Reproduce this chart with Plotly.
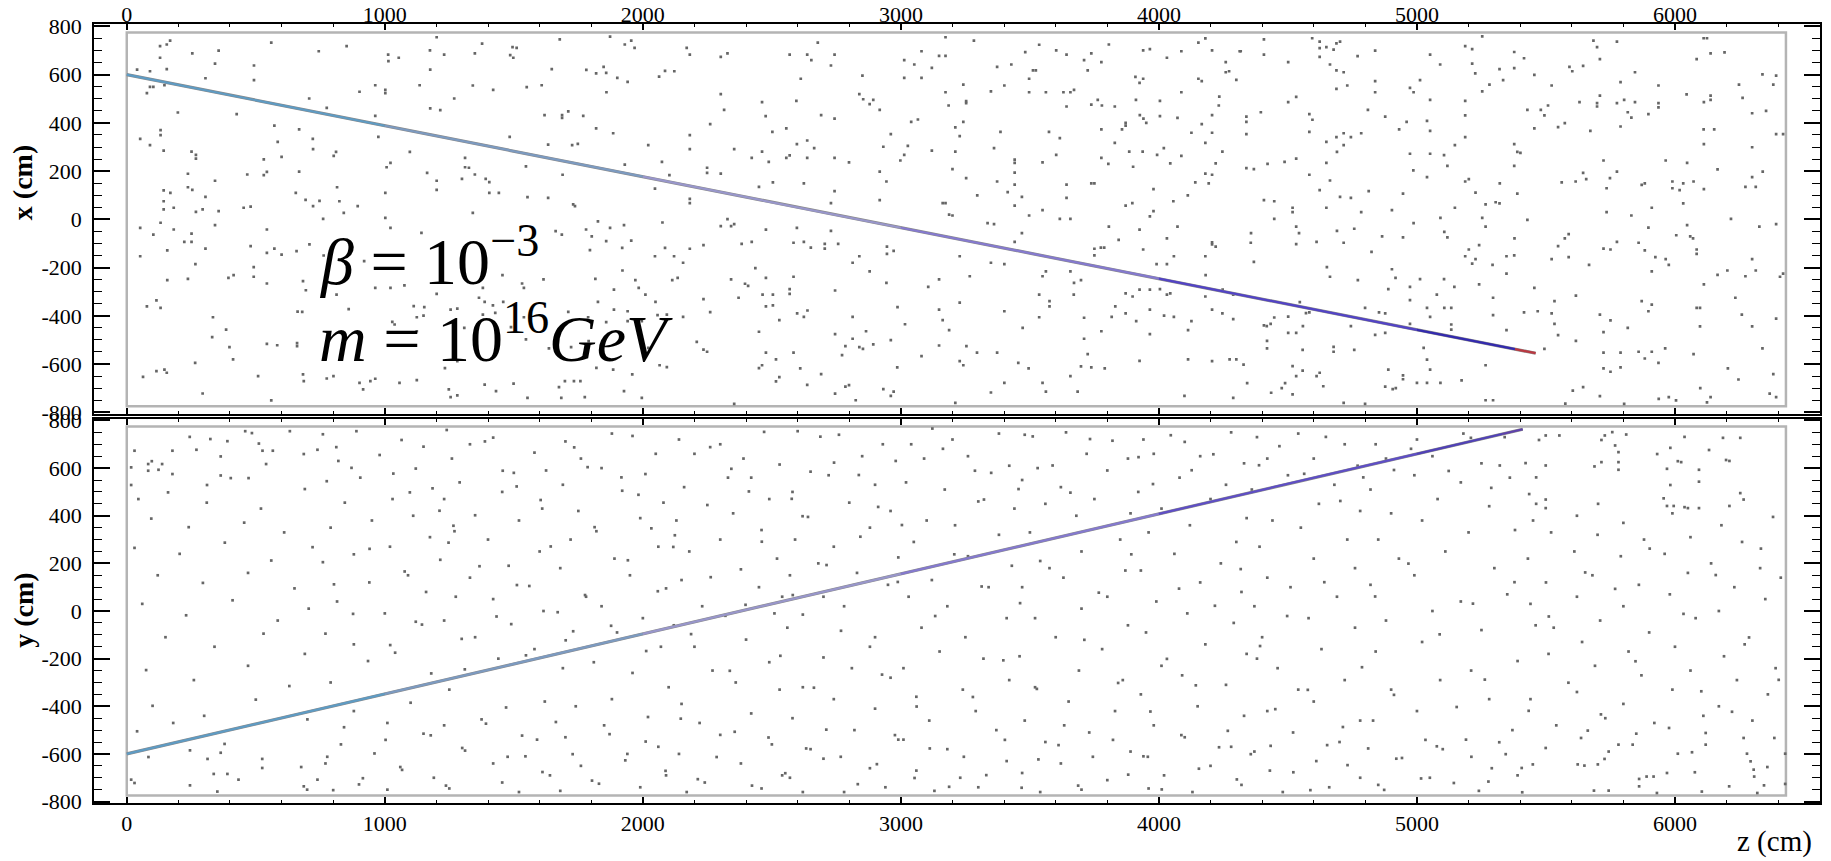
import plotly.graph_objects as go

# ---------------------------------------------------------------
# Noise hits in the x-z projection: (z [cm], x [cm])
# ---------------------------------------------------------------
top_hits = [
    (168,741),(129,718),(155,725),(254,688),(356,700),(560,733),(744,697),(852,718),(1013,683),(1054,670),(1014,656),(1201,755),(1175,701),(1230,683),(1377,729),(1349,688),(1495,714),(1511,711),(1486,681),(1498,670),(1678,746),(1930,725),(1968,711),(1955,741),(1873,758),(129,670),
    (155,623),(90,614),(40,621),(342,646),(493,638),(305,585),(493,577),(90,549),(103,549),(78,523),(146,556),(963,556),(1002,537),(1002,523),(902,529),(1135,556),(1176,621),(1647,623),(1781,620),(1819,605),(1848,632),(1858,607),(1901,587),(1941,570),(2063,592),(2086,616),(2122,614),(1341,555),(1420,537),(1550,548),(1608,556),(1859,527),
    (198,443),(426,436),(707,501),(775,462),(963,429),(1176,460),(1215,453),(1269,501),(1619,432),(1687,432),(1687,421),(1711,448),(1769,429),(1819,377),(1885,357),(572,389),(131,370),(131,349),(668,373),
    (52,334),(90,308),(143,285),(251,281),(268,267),(268,252),(585,321),(721,334),(811,280),(802,263),(722,291),(531,249),(600,259),(975,342),(1097,280),(1311,255),(1484,342),(1633,310),(1726,308),(1748,313),(2021,308),(2074,238),
    (237,189),(342,160),(467,186),(531,183),(543,197),(668,198),(1022,234),(1007,216),(1164,193),(1201,160),(1311,216),(1326,214),(1349,186),(1391,168),(1405,154),(1299,168),(1547,220),(1689,185),(1930,227),(2103,183),(815,133),(1002,110),(1201,122),(1405,110),(1442,110),(2047,127),(143,120),(169,110),(237,133),(254,122),
    (305,93),(655,110),(693,81),(747,77),(824,75),(895,55),(143,75),(143,41),(182,48),(268,31),(294,41),(356,34),(453,48),(480,53),(722,55),(841,27),(1341,27),(1553,92),(1633,89),(1730,62),(1737,55),(761,2),(1002,6),(131,-14),(52,-35),(182,-42),(342,-24),(543,-42),(1022,-35),(1142,-56),(1662,-49),(1780,-42),(1873,-35),(1927,-24),(1826,-8),(2076,-13),
    (103,-63),(251,-59),(223,-93),(251,-93),(305,-121),(157,-129),(52,-153),(480,-111),(543,-139),(572,-121),(600,-146),(658,-132),(708,-104),(763,-150),(920,-173),(1686,-63),(1802,-71),(1858,-90),(1955,-88),(2086,-118),(1795,-128),(1920,-118),(2047,-153),(2121,-153),
    (266,-186),(492,-198),(492,-238),(394,-243),(414,-231),(157,-252),(237,-247),(543,-266),(683,-256),(694,-294),(813,-312),(963,-284),(1022,-284),(1076,-274),(1201,-309),(1380,-284),(1456,-231),(1532,-266),(1539,-284),(1615,-249),(1816,-247),(1888,-291),(1971,-252),(1984,-284),(2010,-312),(1921,-212),(2114,-252),(2135,-243),
    (78,-361),(115,-336),(131,-367),(662,-383),(680,-384),(860,-372),(1112,-360),(1153,-364),(1255,-374),(1281,-370),(1365,-325),(1387,-342),(1419,-357),(1459,-342),(1826,-342),(1888,-374),(1941,-381),(2049,-342),(334,-406),(385,-457),(1029,-425),(1038,-436),(1124,-406),(1150,-399),(1124,-464),(1308,-450),(1380,-395),(1428,-388),(1489,-447),(1539,-406),(1711,-384),(1788,-406),(1858,-426),(1941,-422),(1996,-422),(2057,-397),(2093,-395),
    (331,-488),(398,-530),(412,-581),(543,-516),(583,-522),(660,-513),(660,-526),(265,-595),(146,-623),(155,-636),(115,-629),(63,-653),(509,-650),(683,-643),(775,-660),(801,-650),(1233,-617),(1281,-588),(1414,-577),(1547,-498),(1636,-535),(1722,-530),(1790,-505),(1820,-616),(1885,-623),(1959,-643),(2021,-533),(2065,-605),(2093,-613),
    (294,-722),(560,-751),(686,-671),(902,-678),(916,-705),(944,-671),(963,-661),(1057,-678),(1124,-667),(1248,-705),(1255,-737),(1281,-730),(1387,-685),(1431,-712),(1499,-681),(1675,-696),(1698,-671),(1733,-671),(1758,-671),(1553,-740),(1684,-740),(1775,-737),(1927,-712),(1996,-740),
    (2170,711),(2182,683),(2302,674),(2328,688),(2678,733),(2569,683),(2637,683),(2653,660),(2743,683),(2729,638),(3173,755),(3283,741),(3080,697),(3013,660),(3052,642),(3148,678),(3173,678),(3120,628),(3482,693),(3536,724),(3602,701),(3642,683),(3738,688),(3710,660),(3777,652),(3724,618),(3806,725),(3939,701),(3965,706),(4031,670),(4087,697),(4153,733),(4180,750),(4206,701),(4259,652),(4313,697),(3373,632),(3428,642),(3512,618),(3523,618),
    (2612,583),(2851,596),(2302,519),(3013,587),(3080,587),(3242,559),(3173,527),(3349,531),(3401,555),(3497,583),(3497,527),(3562,527),(3630,527),(3657,527),(3671,537),(3909,591),(3939,583),(3925,566),(4153,583),(4166,573),(4259,610),(4272,614),(4300,578),(4087,527),(2839,519),
    (2462,486),(2595,491),(2315,454),(2476,428),(2691,432),(2743,418),(2854,498),(2879,478),(2893,495),(2918,454),(3253,490),(3253,482),(3185,472),(3642,468),(3738,476),(3763,495),(3779,472),(3829,468),(3911,495),(4004,491),(4234,509),(4232,472),(4206,432),(3926,432),(3940,418),(3951,400),(4004,428),(4072,421),(3871,400),(3871,389),(3066,414),(3040,404),(2261,395),(3242,404),(3857,373),(4166,395),
    (2182,349),(2556,377),(2502,363),(2637,327),(2597,312),(2664,295),(2961,353),(3211,381),(3228,345),(3386,363),(3574,363),(3616,337),(3777,373),(4126,359),(4206,359),(2182,291),(2354,291),(2462,281),(2422,255),(2488,238),(2556,255),(2569,265),(2637,255),(2743,255),(2799,236),(2932,301),(3027,305),(3013,267),(2998,244),(3120,285),(3211,281),(3361,295),(3441,248),(3441,234),(3549,236),(3602,267),(3777,255),(3804,230),(3829,317),(3885,281),(3937,281),(3993,267),(4019,295),(4087,263),(4180,317),(4246,281),(4220,232),(4044,232),(3900,218),
    (2249,214),(2249,193),(2302,190),(2504,153),(2624,149),(2743,117),(2918,198),(2944,157),(3200,208),(3253,171),(3373,157),(3441,194),(3441,144),(3414,113),(3469,93),(3642,144),(3738,149),(3750,149),(3979,125),(4141,153),(4180,190),(4206,185),(4193,149),(4112,99),(4056,75),(2450,135),
    (2182,85),(2182,67),(2302,-28),(2328,1),(2342,-28),(2354,-20),(2477,-43),(2597,-35),(2729,67),(2729,-48),(2918,80),(3162,67),(3173,67),(3187,20),(3200,16),(3296,99),(3336,-16),(3361,-20),(3441,57),(3497,16),(3549,38),(3616,2),(3657,2),(3642,89),(3806,-30),(3871,57),(3897,67),(3965,12),(3979,34),(4072,-30),(3925,-43),
    (2182,-122),(2235,-107),(2383,-102),(2422,-93),(2584,-97),(2624,-93),(2651,-117),(2705,-102),(2705,-121),(2757,-102),(2946,-113),(2946,-143),(2972,-131),(2839,-153),(2813,-180),(3228,-153),(3349,-180),(3401,-186),(3469,-57),(3441,-93),(3750,-122),(3775,-117),(3788,-117),(3750,-149),(3844,-85),(3939,-125),(4031,-79),(4058,-153),(4180,-153),(4206,-95),(4206,-104),(4220,-113),(3991,-186),(4031,-186),(2156,-180),
    (2436,-202),(2477,-243),(2342,-249),(2396,-267),(2408,-276),(2584,-238),(2569,-289),(2569,-309),(2464,-312),(2504,-312),(2745,-295),(2879,-216),(2944,-263),(3106,-280),(3148,-249),(3267,-236),(3562,-216),(3549,-236),(3657,-216),(3698,-252),(3671,-263),(3536,-312),(3670,-312),(3871,-307),(3898,-320),(3925,-291),(3965,-291),(4004,-289),(4031,-312),(4044,-307),(4181,-231),(4180,-320),(4247,-291),(4288,-312),
    (2235,-331),(2261,-385),(2371,-325),(2477,-361),(2504,-357),(2598,-390),(2638,-378),(2624,-404),(2529,-418),(2813,-404),(2987,-364),(3148,-374),(3162,-418),(3228,-345),(3401,-381),(3576,-339),(3576,-361),(3536,-406),(3710,-408),(3777,-464),(3831,-361),(3817,-404),(3871,-390),(3912,-422),(3965,-374),(4020,-399),(4058,-404),(4126,-422),(4206,-374),(4246,-390),(4288,-414),(2156,-404),(3016,-435),(3187,-459),(3472,-450),
    (2209,-508),(2235,-540),(2249,-549),(2450,-466),(2745,-476),(2813,-495),(2785,-526),(2839,-530),(2853,-537),(2893,-518),(2865,-464),(2961,-501),(2772,-563),(2477,-553),(2584,-553),(3148,-523),(3254,-526),(3295,-553),(3373,-553),(3710,-495),(3724,-559),(3965,-476),(4113,-459),(3925,-587),(4113,-581),(4206,-588),(4274,-581),(4300,-581),(3080,-567),
    (2450,-617),(2462,-605),(2516,-581),(2610,-618),(2691,-642),(2529,-654),(2516,-672),(2637,-686),(2745,-723),(2785,-694),(2799,-687),(2825,-750),(2932,-704),(2972,-714),(2961,-732),(2986,-614),(3228,-588),(3242,-605),(3455,-595),(3495,-618),(3657,-650),(3698,-610),(3738,-614),(3790,-618),(3401,-678),(3549,-678),(3562,-714),(3349,-718),(3685,-714),(3211,-761),(2354,-765),(4099,-732),(4288,-740),
    (4317,697),(4407,746),(4407,683),(4594,751),(4623,737),(4623,710),(4623,674),(4649,714),(4677,704),(4688,730),(4702,737),(4501,652),(4770,677),(4838,700),(5051,683),(5090,642),(5187,718),(5214,706),(5214,646),(5253,759),(5377,694),(5415,668),(5684,741),(5698,714),(5709,664),(5775,737),(6084,664),(6111,751),(6124,751),(6138,688),(6192,692),
    (4663,642),(4688,618),(4716,610),(4730,555),(4688,541),(4838,573),(4838,527),(4973,545),(4987,527),(5012,577),(5226,605),(5253,531),(5281,559),(5320,623),(5334,577),(5377,627),(5455,599),(5522,555),(5591,632),(5602,614),(5644,636),(5845,610),(5789,569),(5936,555),(6339,601),(6392,596),(6381,559),(6248,559),(5709,513),(6045,518),(6138,513),(6262,504),
    (4501,486),(4532,508),(4395,444),(4339,426),(4339,404),(4583,436),(4595,413),(4810,454),(4877,426),(4960,404),(5039,408),(5051,495),(5187,491),(5187,431),(5428,454),(5480,454),(5494,431),(5508,472),(5547,382),(5573,399),(5630,486),(5698,482),(5698,468),(5775,482),(5803,495),(5845,486),(5817,444),(5831,422),(5897,436),(5936,482),(5936,464),(6112,486),(6138,495),(6299,440),(6353,450),(5789,385),(6111,373),(6152,373),
    (4339,353),(4583,363),(4649,321),(4688,341),(4716,357),(4716,308),(4744,341),(4784,357),(4690,280),(4931,373),(5051,367),(5147,308),(5187,341),(4973,272),(5051,272),(5105,266),(5118,222),(5377,312),(5389,280),(5401,276),(5455,377),(5672,367),(6112,312),(6299,299),(6419,353),(6392,353),(4339,212),(4368,208),(4421,230),(4487,238),(4532,252),(4649,234),(5964,244),(6047,234),(5723,244),(5377,222),
    (4583,185),(4663,161),(4623,121),(4813,117),(4986,203),(5039,175),(4946,107),(5187,157),(5201,167),(5227,111),(5321,149),(5389,107),(5561,153),(5615,157),(5644,193),(5656,167),(5748,171),(5735,129),(5775,198),(5871,143),(5883,149),(5990,157),(5990,129),(6018,121),(6032,149),(6072,157),(6112,125),(6165,207),(6273,135),(6313,135),(6299,175),(6340,198),
    (4407,80),(4447,75),(4518,48),(4518,30),(4649,48),(4702,93),(4744,89),(4784,30),(4903,38),(5266,62),(5305,71),(5320,66),(5147,48),(5091,6),(5253,6),(5266,-30),(5428,-2),(5735,30),(5831,16),(5910,48),(6032,66),(5897,-34),(6047,-24),(6217,2),(6327,-30),(6392,-20),(4357,-57),(4356,-97),(4447,2),(4532,-30),(4543,-57),(4532,-103),(4611,-93),(4690,-48),(4716,-97),(4757,-39),(4865,-71),(4946,-75),(4987,-16),(5106,-52),(5118,-75),
    (5378,-79),(5547,-111),(5573,-79),(5588,-61),(5723,-121),(5750,-125),(5775,-93),(5859,-97),(5883,-129),(6005,-66),(6059,-71),(6070,-79),(6084,-125),(6084,-143),(5187,-153),(5201,-125),(5214,-184),(5227,-165),(5241,-107),(5293,-189),(5347,-153),(5377,-149),(5522,-165),(5588,-157),(5924,-157),(5964,-165),(5976,-189),(6299,-165),(4368,-176),(4824,-135),(4651,-198),(4663,-238),(4903,-207),
    (4917,-243),(5012,-248),(5105,-248),(4771,-252),(4889,-289),(4973,-280),(5077,-312),(5145,-280),(5241,-270),(5347,-225),(5455,-284),(5667,-189),(5910,-216),(6165,-230),(6203,-212),(6273,-236),(6313,-212),(6407,-238),(6419,-225),(6112,-270),(5616,-316),
    (4501,-403),(4447,-407),(4433,-433),(4407,-440),(4418,-443),(4546,-343),(4570,-389),(4583,-386),(4558,-443),(4501,-471),(4532,-471),(4419,-504),(4419,-535),(4799,-367),(4853,-386),(4877,-390),(4744,-443),(4838,-479),(4877,-471),(4973,-335),(4973,-433),(5039,-367),(5051,-404),(5106,-367),(5133,-367),(5133,-436),(5133,-457),(5295,-325),(5295,-397),(5347,-459),(5415,-386),(5468,-381),(5522,-390),(5533,-339),(5533,-433),(5547,-480),(5709,-395),(5750,-419),(5723,-468),(5817,-450),(5871,-339),(5910,-354),(5897,-381),(6097,-367),(6084,-367),(6097,-444),(6259,-395),(6234,-325),(6299,-444),(6392,-412),
    (4557,-541),(4677,-529),(4677,-549),(4757,-541),(5026,-533),(5039,-582),(5494,-537),(5616,-504),(5723,-553),(5789,-553),(5859,-549),(5883,-577),(5910,-549),(5936,-595),(5962,-535),(6072,-559),(6339,-535),
    (4328,-602),(4518,-609),(4557,-627),(4532,-650),(4623,-636),(4611,-650),(4637,-692),(4435,-719),(4476,-700),(4489,-679),(4518,-726),(4342,-679),(4716,-761),(4799,-765),(4889,-623),(4946,-647),(4946,-663),(5051,-623),(4877,-694),(4906,-704),(4918,-700),(5000,-678),(5039,-678),(5091,-678),(5173,-668),(5266,-605),(5266,-750),(5295,-750),(5575,-764),(5604,-710),(5644,-696),(5709,-733),(5723,-618),(5750,-632),(5789,-614),(5803,-765),(5937,-744),(5976,-737),(6004,-751),(6098,-700),(6124,-759),(6138,-737),(6205,-618),(6246,-664),(6381,-642),(6367,-723),(6392,-737),
]

# Noise hits in the y-z projection: (z [cm], y [cm])
bottom_hits = [
    (244,731),(324,722),(390,713),(459,755),(485,747),(632,755),(30,673),(177,673),(270,677),(364,649),(512,703),(526,673),(566,673),(540,617),(686,659),(739,677),
    (17,603),(83,617),(97,629),(137,617),(123,593),(83,589),(177,575),(364,569),(403,558),(472,558),(17,529),(311,529),
    (84,-613),(245,-585),(313,-621),(364,-595),(379,-558),(17,-708),(30,-722),(245,-732),(337,-684),(390,-684),(433,-708),(351,-758),(525,-621),(525,-659),(676,-655),(686,-736),(699,-750),(739,-708),
    (5406,-659),(5449,-644),(5499,-575),(5623,-644),(5649,-649),(5636,-533),(5662,-502),(5701,-644),(5727,-621),(5743,-590),(5781,-561),(5836,-561),(5850,-515),(5861,-705),(5861,-736),(5890,-695),(5917,-695),(5969,-680),(5930,-764),(6011,-599),(6066,-593),(6077,-677),(6104,-758),(6119,-561),(6119,-512),(6210,-736),(6266,-533),(6279,-599),(6293,-631),(6305,-666),(6307,-695),(6319,-764),(6345,-732),(6358,-655),(6385,-533),(6427,-599),(6427,-726),(5686,-754),(5743,-754),
    (5473,718),(5499,737),(5552,737),(5757,751),(5728,737),(5715,718),(5811,741),(5768,695),(5781,667),(5715,625),(5688,607),(5781,625),(5781,593),(5462,561),(5421,621),(5499,611),(5435,491),(5462,450),(5499,468),(5499,432),(5702,450),
    (5931,659),(5982,685),(5969,597),(5982,529),(6011,629),(6024,625),(6037,731),(6093,593),(6093,543),(6132,676),(6186,727),(6253,727),(6198,634),(6211,630),(6253,495),(6266,468),(5956,473),(5969,441),(5995,441),(6037,436),(6050,432),(6093,432),(6211,441),
    (45,470),(160,498),(310,455),(520,430),(690,512),(95,388),(240,352),(455,371),(610,330),(30,265),(205,240),(380,287),(560,212),(720,268),(120,150),(295,118),(470,160),(650,95),(60,30),(230,-18),(410,45),(585,-40),(705,10),(150,-110),(340,-150),(530,-95),(690,-180),(75,-248),(260,-290),(470,-230),(630,-315),(100,-398),(300,-440),(500,-372),(700,-455),(40,-505),(180,-470),
    (760,742),(1065,718),(890,755),(1150,690),(980,655),(820,630),(1120,598),(905,560),(775,545),(1185,515),(1030,470),(845,455),(1110,400),(950,380),(790,350),(1175,310),(1020,270),(880,238),(760,205),(1090,150),(940,120),(1160,80),(815,40),(1000,-10),(1120,-45),(770,-95),(880,-140),(1040,-175),(935,-210),(1180,-262),(790,-300),(1100,-385),(880,-420),(1010,-470),(1150,-515),(830,-560),(960,-598),(770,-640),(1060,-655),(1190,-700),(900,-728),(1010,-750),(800,-752),
    (1420,728),(1240,760),(1330,700),(1580,665),(1260,640),(1500,580),(1625,590),(1290,540),(1455,500),(1230,470),(1610,430),(1350,402),(1520,380),(1270,335),(1400,300),(1600,250),(1215,215),(1480,190),(1330,140),(1560,105),(1420,50),(1275,60),(1615,0),(1490,-55),(1230,-40),(1350,-110),(1580,-160),(1440,-200),(1310,-245),(1250,-330),(1620,-380),(1470,-405),(1375,-455),(1230,-480),(1590,-540),(1300,-575),(1545,-610),(1420,-640),(1640,-690),(1455,-720),(1250,-745),(1520,-760),
    (1880,745),(1700,712),(1960,735),(2050,660),(1760,640),(1840,600),(2010,575),(1690,530),(1920,505),(2080,455),(1750,420),(1990,390),(1820,335),(1720,300),(2060,270),(1890,220),(1680,180),(1950,150),(2090,95),(1780,60),(1840,20),(1670,-5),(2000,-30),(1900,-90),(1730,-85),(2070,-150),(1810,-215),(1960,-260),(1690,-240),(2100,-320),(1880,-370),(1740,-400),(2020,-445),(1850,-480),(1700,-530),(2060,-570),(1940,-600),(1760,-650),(2090,-690),(1830,-725),(1680,-755),(1990,-740),
    (2300,700),(2470,752),(2140,720),(2390,640),(2530,615),(2200,660),(2330,560),(2160,520),(2420,560),(2490,470),(2250,445),(2350,410),(2130,380),(2460,340),(2300,300),(2180,250),(2520,220),(2380,175),(2150,130),(2450,100),(2540,60),(2230,20),(2320,-20),(2510,-10),(2120,-60),(2400,-120),(2200,-150),(2490,-215),(2270,-250),(2360,-300),(2530,-330),(2150,-390),(2420,-430),(2220,-470),(2300,-520),(2500,-560),(2140,-600),(2380,-640),(2540,-690),(2240,-720),(2460,-745),(2170,-760),
    (2760,740),(2930,700),(2600,755),(2850,650),(2980,630),(2650,585),(2720,570),(2900,530),(2580,500),(2800,455),(2960,420),(2640,395),(2880,350),(2590,300),(2740,270),(2990,225),(2680,200),(2830,160),(2570,150),(2950,110),(2700,60),(2780,20),(2620,-15),(2560,-70),(2900,-110),(2880,-150),(2700,-195),(2810,-240),(2960,-280),(2620,-320),(2740,-370),(2900,-410),(2580,-450),(2820,-500),(2990,-540),(2650,-580),(2700,-620),(2880,-660),(2570,-700),(2940,-740),(2780,-760),(2620,-760),
    (3200,720),(3380,745),(3040,700),(3260,650),(3420,610),(3090,640),(3350,580),(3020,540),(3170,510),(3300,460),(3440,430),(3100,380),(3210,360),(3380,320),(3050,290),(3260,230),(3430,190),(3120,130),(3340,100),(3030,60),(3180,20),(3410,-30),(3080,-70),(3250,-110),(3150,-170),(3320,-200),(3010,-240),(3420,-290),(3240,-330),(3060,-360),(3290,-420),(3110,-460),(3370,-500),(3010,-540),(3180,-580),(3410,-630),(3060,-670),(3230,-700),(3300,-740),(3130,-755),
    (3640,750),(3820,715),(3480,740),(3720,660),(3880,640),(3530,600),(3800,590),(3470,550),(3620,520),(3750,470),(3560,450),(3890,410),(3680,400),(3500,330),(3850,300),(3700,250),(3540,210),(3870,170),(3630,140),(3470,100),(3800,60),(3700,10),(3520,-30),(3880,-60),(3600,-110),(3780,-160),(3460,-190),(3690,-250),(3860,-290),(3520,-320),(3650,-380),(3830,-420),(3480,-460),(3730,-510),(3560,-550),(3890,-590),(3620,-640),(3470,-680),(3800,-710),(3700,-750),(3540,-760),
    (4100,710),(4280,750),(3940,720),(4160,650),(4330,620),(3980,660),(4080,560),(4260,530),(3920,500),(4200,470),(4010,430),(4340,390),(4120,360),(3960,330),(4300,290),(4060,240),(4240,200),(3930,170),(4160,120),(4320,80),(3990,40),(4110,-10),(4290,-50),(3950,-90),(4180,-140),(4340,-180),(4010,-230),(4090,-270),(4260,-310),(3930,-350),(4150,-400),(4330,-440),(3980,-480),(4100,-530),(4280,-570),(3940,-610),(4200,-650),(4020,-690),(4320,-730),(3960,-745),(4130,-760),
    (4540,745),(4720,700),(4380,730),(4600,640),(4770,610),(4420,640),(4500,570),(4680,530),(4360,510),(4620,450),(4780,420),(4440,380),(4550,350),(4730,300),(4390,270),(4600,220),(4760,180),(4420,140),(4510,100),(4690,60),(4370,20),(4580,-30),(4760,-70),(4400,-110),(4630,-160),(4380,-200),(4460,-240),(4720,-290),(4540,-330),(4600,-380),(4420,-420),(4780,-460),(4520,-510),(4700,-550),(4370,-590),(4610,-630),(4430,-670),(4780,-700),(4660,-740),(4480,-760),
    (5000,720),(5180,745),(4840,700),(5340,730),(5060,650),(5250,620),(4880,640),(4990,570),(5170,540),(4820,510),(5360,560),(5080,470),(5280,440),(4900,410),(5020,380),(5200,330),(4850,300),(5380,340),(5110,250),(4930,220),(5300,180),(4990,150),(4820,110),(5350,70),(5170,40),(5060,0),(4880,-40),(5250,-80),(5020,-130),(4840,-170),(5390,-210),(5210,-250),(5090,-290),(4900,-330),(5280,-370),(5000,-420),(4830,-460),(5370,-500),(5190,-540),(5100,-580),(4920,-620),(5290,-660),(5050,-700),(4850,-730),(5390,-690),(5240,-755),
    (5620,400),(5450,380),(5990,410),(5800,370),(6380,395),(6180,360),(5700,320),(5880,300),(5520,330),(6260,290),(6060,310),(5610,250),(5430,220),(5960,240),(6140,200),(5790,230),(6330,180),(5680,150),(5500,120),(6050,160),(5860,110),(6410,140),(6230,100),(5620,60),(5440,30),(5980,70),(5800,20),(6350,50),(6170,0),(5710,-40),(5530,-70),(6080,-30),(5900,-90),(5460,-60),(6270,-140),(5820,-170),(5640,-130),(6190,-190),(6000,-150),(5510,-180),(6390,-240),(5870,-270),(5690,-230),(6240,-290),(6060,-250),(5620,-340),(5440,-370),(5990,-330),(5800,-390),(6360,-350),(6170,-400),(5730,-450),(5540,-480),(6110,-440),(5920,-470),(6300,-460),
    (812,688),(871,601),(1033,577),(1097,498),(1212,421),(1266,358),(1388,712),(1457,589),(1511,523),(1604,466),(1734,687),(1786,604),(1917,561),(1983,488),(2033,347),(2118,269),(2261,688),(2343,597),(2411,502),(2577,471),(2619,398),(2688,732),(2741,623),(2837,571),(2912,437),(3004,361),(3122,766),(3163,681),(3287,589),(3322,468),(3456,512),(3511,733),(3588,611),(3657,497),(3733,722),(3921,646),(3977,533),(4046,738),(4127,591),(4211,658),(4388,612),(4467,692),(4563,576),(4647,731),(4703,462),(4792,561),(4911,592),(4977,681),(5123,588),(5209,727),(5288,517),(5321,611),
    (803,112),(877,-12),(941,261),(1021,-143),(1077,166),(1144,-57),(1247,287),(1298,-117),(1367,188),(1433,-23),(1512,109),(1547,-186),(1643,271),(1701,-123),(1776,67),(1813,352),(1877,-62),(1942,213),(2013,-168),(2058,83),(2124,318),(2187,-97),(2263,142),(2337,-251),(2398,26),(2461,291),(2533,-188),(2581,67),(2663,-322),(2712,193),(2768,-83),(2843,312),(2927,-267),(2988,122),(3061,-401),(3133,-21),(3207,238),(3279,-361),(3313,103),(3397,-207),(3462,33),(3527,-327),(3576,180),(3633,-480),(3711,-121),(3767,77),(3842,-302),(3893,238),(3967,-422),(4031,-201),(4078,94),(4143,-312),(4217,22),(4267,-503),(4317,176),(4392,-147),(4451,-412),(4497,-21),(4577,-331),(4641,121),(4713,-487),(4787,-236),(4838,61),(4911,-352),(4967,199),(5033,-541),(5088,-98),(5154,-403),(5217,31),(5263,-288),(5319,-551),(5378,121),(5433,-419),(5511,-23),(5587,-301),(5652,162),(5713,-434),(5768,93),(5847,-211),(5902,262),(5977,-491),(6033,-12),(6102,-337),(6158,151),(6221,-423),(6287,-111),(6333,262),(6402,-289),
    (777,-612),(842,-488),(915,-702),(1003,-541),(1067,-667),(1178,-522),(1237,-733),(1311,-586),(1392,-473),(1476,-612),(1532,-523),(1611,-676),(1663,-466),(1728,-601),(1803,-712),(1871,-517),(1932,-627),(2011,-548),(2088,-671),(2147,-452),(2213,-706),(2286,-613),(2356,-507),(2423,-733),(2487,-531),(2552,-681),(2633,-577),(2711,-498),(2767,-612),(2833,-727),(2907,-643),(2977,-521),(3053,-701),(3112,-577),(3187,-738),(3244,-612),(3331,-689),(3403,-541),(3468,-742),(3533,-623),(3611,-563),(3687,-733),(3744,-612),(3822,-541),(3881,-687),(3957,-612),(4011,-749),(4087,-521),(4155,-662),(4233,-572),(4302,-707),(4356,-601),(4433,-566),(4521,-677),(4587,-752),(4652,-563),(4731,-647),(4811,-577),(4873,-751),(4942,-617),(5016,-703),(5077,-568),(5143,-722),(5211,-612),(5277,-716),(5344,-601),(5408,-761),
]

# Reconstructed monopole track, vertices along z
track_z_top = [0, 1000, 2000, 3000, 4000, 5000, 5380, 5460]
track_x_top = [600, 388, 177, -35, -246, -458, -538, -555]
track_z_bot = [0, 1000, 2000, 3000, 4000, 5000, 5330, 5410]
track_y_bot = [-600, -348, -96, 156, 408, 660, 743, 763]

# Detector volume outline
det_z = [0, 6430]
det_half = 775

z_ticks = [0, 1000, 2000, 3000, 4000, 5000, 6000]
v_ticks = [-800, -600, -400, -200, 0, 200, 400, 600, 800]

# colour along the track (one per segment, early -> late)
seg_colors_top = ['#5a9dca', '#7b9cc6', '#9a98d2', '#8478d6', '#4c3ccc', '#2a20b2', '#c0303a']
seg_colors_bot = ['#5a9dca', '#7b9cc6', '#9a98d2', '#8478d6', '#5a48cc', '#4a3abc', '#5a3ab0']

SERIF = 'Liberation Serif, Times New Roman, serif'
HIT_COLOR = '#666666'

fig = go.Figure()

for hits, xa, ya in ((top_hits, 'x', 'y'), (bottom_hits, 'x2', 'y2')):
    fig.add_trace(go.Scatter(
        x=[h[0] for h in hits], y=[h[1] for h in hits],
        mode='markers', xaxis=xa, yaxis=ya,
        marker=dict(symbol='square', size=2.7, color=HIT_COLOR, line=dict(width=0)),
        hoverinfo='skip', showlegend=False))


def add_track(zs, vs, colors, xa, ya):
    # grey underlay, then coloured segments
    fig.add_trace(go.Scatter(x=zs, y=vs, mode='lines', xaxis=xa, yaxis=ya,
                             line=dict(color='#8a8a8a', width=3.2),
                             hoverinfo='skip', showlegend=False))
    for i, c in enumerate(colors):
        fig.add_trace(go.Scatter(x=zs[i:i + 2], y=vs[i:i + 2], mode='lines',
                                 xaxis=xa, yaxis=ya,
                                 line=dict(color=c, width=2.2),
                                 opacity=0.9, hoverinfo='skip', showlegend=False))


add_track(track_z_top, track_x_top, seg_colors_top, 'x', 'y')
add_track(track_z_bot, track_y_bot, seg_colors_bot, 'x2', 'y2')

tick_font = dict(family=SERIF, size=22, color='black')
minor_z = list(range(-200, 6601, 200))
minor_v = list(range(-800, 801, 50))

xcommon = dict(range=[-127, 6562], showline=True, linecolor='black', linewidth=1.5,
               mirror='allticks', ticks='inside', ticklen=6, tickwidth=1.5,
               tickcolor='black', tickmode='array', tickvals=z_ticks,
               ticktext=[str(v) for v in z_ticks], automargin=False,
               minor=dict(ticks='inside', ticklen=3, tickwidth=1, tickcolor='black',
                          tickmode='array', tickvals=minor_z, showgrid=False),
               showgrid=False, zeroline=False, tickfont=tick_font)
ycommon = dict(showline=True, linecolor='black', linewidth=1.5, mirror='allticks',
               ticks='inside', ticklen=16, tickwidth=1.5, tickcolor='black',
               tickmode='array', tickvals=v_ticks, ticktext=[str(v) for v in v_ticks],
               automargin=False,
               minor=dict(ticks='inside', ticklen=8, tickwidth=1, tickcolor='black',
                          tickmode='array', tickvals=minor_v, showgrid=False),
               showgrid=False, zeroline=False, tickfont=tick_font, ticklabelstandoff=6)

fig.update_layout(
    template='none',
    width=1831, height=861,
    margin=dict(l=94, r=11, t=24, b=58, autoexpand=False),
    paper_bgcolor='white', plot_bgcolor='white',
    xaxis=dict(xcommon, anchor='y', side='top', domain=[0, 1], ticklabelstandoff=-9),
    xaxis2=dict(xcommon, anchor='y2', side='bottom', domain=[0, 1], matches='x'),
    yaxis=dict(ycommon, anchor='x', domain=[0.4997, 1], range=[-806, 810]),
    yaxis2=dict(ycommon, anchor='x2', domain=[0, 0.4929], range=[-806, 806]),
)

for xr, yr in (('x', 'y'), ('x2', 'y2')):
    fig.add_shape(type='rect', xref=xr, yref=yr, x0=det_z[0], x1=det_z[1],
                  y0=-det_half, y1=det_half, layer='below',
                  line=dict(color='#b4b4b4', width=2.5), fillcolor='rgba(0,0,0,0)')

fig.add_annotation(xref='x', yref='y', x=738, y=-155, xanchor='left', yanchor='middle',
                   text='<i>β</i> = 10<sup>−3</sup>', showarrow=False,
                   font=dict(family=SERIF, size=66, color='black'))
fig.add_annotation(xref='x', yref='y', x=738, y=-472, xanchor='left', yanchor='middle',
                   text='<i>m</i> = 10<sup>16</sup><i>GeV</i>', showarrow=False,
                   font=dict(family=SERIF, size=66, color='black'))

fig.add_annotation(xref='paper', yref='paper', x=-0.0410, y=0.796, textangle=-90,
                   text='<b>x (cm)</b>', showarrow=False, xanchor='center', yanchor='middle',
                   font=dict(family=SERIF, size=28, color='black'))
fig.add_annotation(xref='paper', yref='paper', x=-0.0410, y=0.247, textangle=-90,
                   text='<b>y (cm)</b>', showarrow=False, xanchor='center', yanchor='middle',
                   font=dict(family=SERIF, size=28, color='black'))
fig.add_annotation(xref='paper', yref='paper', x=0.9965, y=-0.0497, xanchor='right',
                   yanchor='middle', text='z (cm)', showarrow=False,
                   font=dict(family=SERIF, size=29, color='black'))

fig.write_html('out.html')
